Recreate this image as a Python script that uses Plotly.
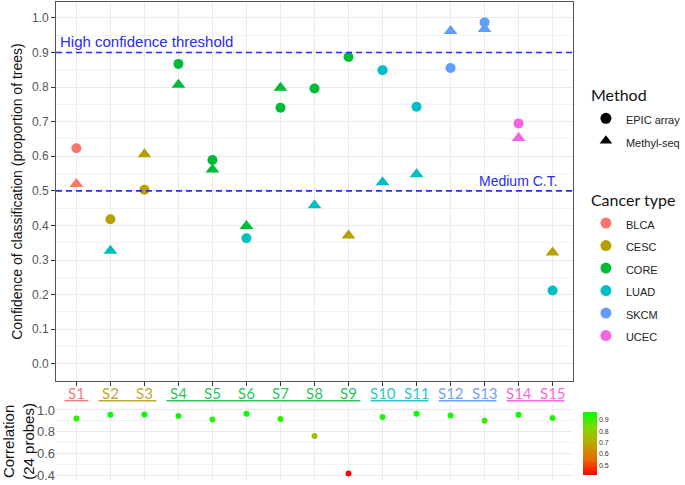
import plotly.graph_objects as go

# sample ids and the true cancer type of each sample (colours the tick labels)
samples = ["S1", "S2", "S3", "S4", "S5", "S6", "S7", "S8", "S9", "S10", "S11", "S12", "S13", "S14", "S15"]
true_type = ["BLCA", "CESC", "CESC", "CORE", "CORE", "CORE", "CORE", "CORE", "CORE",
             "LUAD", "LUAD", "SKCM", "SKCM", "UCEC", "UCEC"]

# EPIC array predictions
epic_conf = [0.623, 0.418, 0.503, 0.867, 0.589, 0.363, 0.740, 0.796, 0.887, 0.849, 0.743, 0.855, 0.987, 0.695, 0.212]
epic_pred = ["BLCA", "CESC", "CESC", "CORE", "CORE", "LUAD", "CORE", "CORE", "CORE",
             "LUAD", "LUAD", "SKCM", "SKCM", "UCEC", "LUAD"]

# Methyl-seq predictions
seq_conf = [0.520, 0.327, 0.606, 0.807, 0.562, 0.398, 0.798, 0.458, 0.371, 0.525, 0.548, 0.962, 0.968, 0.653, 0.322]
seq_pred = ["BLCA", "LUAD", "CESC", "CORE", "CORE", "CORE", "CORE", "LUAD", "CESC",
            "LUAD", "LUAD", "SKCM", "SKCM", "UCEC", "CESC"]

# correlation between the two platforms (24 probes)
correlation = [0.922, 0.956, 0.958, 0.944, 0.913, 0.965, 0.916, 0.760, 0.415, 0.934, 0.965, 0.950, 0.900, 0.956, 0.925]

cancer_types = ["BLCA", "CESC", "CORE", "LUAD", "SKCM", "UCEC"]
palette = {"BLCA": "#F8766D", "CESC": "#B79F00", "CORE": "#00BA38",
           "LUAD": "#00BFC4", "SKCM": "#619CFF", "UCEC": "#F564E3"}
label_col = {"BLCA": "#F47C7C", "CESC": "#C2A432", "CORE": "#2EC45C",
             "LUAD": "#2EC8C8", "SKCM": "#6FA2FF", "UCEC": "#F86ADF"}

xs = list(range(1, len(samples) + 1))
ARIAL = "Liberation Sans, Arial"
CAL = "Lato, Carlito, sans-serif"

fig = go.Figure()

# main panel points
fig.add_trace(go.Scatter(x=xs, y=epic_conf, mode="markers", showlegend=False,
                         marker=dict(symbol="circle", size=10, color=[palette[t] for t in epic_pred])))
fig.add_trace(go.Scatter(x=xs, y=seq_conf, mode="markers", showlegend=False,
                         marker=dict(symbol="triangle-up", size=12, color=[palette[t] for t in seq_pred])))

# correlation panel
fig.add_trace(go.Scatter(x=xs, y=correlation, mode="markers", xaxis="x2", yaxis="y2", showlegend=False,
                         marker=dict(size=6, color=correlation, cmin=min(correlation), cmax=max(correlation),
                                     colorscale=[[0, "#FF0000"], [0.25, "#E86A00"], [0.5, "#BBA800"],
                                                 [0.75, "#80D800"], [1, "#00FF00"]],
                                     colorbar=dict(x=1.019, xanchor="left", y=0.076, yanchor="middle",
                                                   lenmode="pixels", len=63, ypad=0, xpad=0, thickness=14,
                                                   outlinewidth=0, tickvals=[0.5, 0.6, 0.7, 0.8, 0.9],
                                                   ticks="", tickfont=dict(size=7, color="#333", family=ARIAL)))))

# legend entries (outer legend font sets row spacing, inner span sets text size)
def item(s):
    return '<span style="font-size:11px">%s</span>' % s

for name, sym in [("EPIC array", "circle"), ("Methyl-seq", "triangle-up")]:
    fig.add_trace(go.Scatter(x=[None], y=[None], mode="markers", name=item(name), legendgroup="method",
                             legendgrouptitle=dict(text="Method", font=dict(family=CAL, size=16, color="#111")),
                             marker=dict(symbol=sym, size=11, color="black")))
for t in cancer_types:
    fig.add_trace(go.Scatter(x=[None], y=[None], mode="markers", name=item(t), legendgroup="ctype",
                             legendgrouptitle=dict(text="Cancer type", font=dict(family=CAL, size=16, color="#111")),
                             marker=dict(symbol="circle", size=11, color=palette[t])))

# thresholds
for v in [0.9, 0.5]:
    fig.add_shape(type="line", xref="x domain", yref="y", x0=0, x1=1, y0=v, y1=v,
                  line=dict(color="#2B2BF0", width=1.6, dash="6px,4px"))
fig.add_annotation(x=0.003, xref="x domain", y=0.9, yref="y", yanchor="bottom", xanchor="left",
                   text="High confidence threshold", showarrow=False,
                   font=dict(family=ARIAL, size=15, color="#2B2BF0"))
fig.add_annotation(x=0.975, xref="x domain", y=0.5, yref="y", yanchor="bottom", xanchor="right",
                   text="Medium C.T.", showarrow=False, font=dict(family=ARIAL, size=14, color="#2B2BF0"))

# sample labels, coloured by true type, with underlines grouping them
for x, s, t in zip(xs, samples, true_type):
    fig.add_annotation(x=x, xref="x", y=0.182, yref="paper", yanchor="middle", text=s, showarrow=False,
                       font=dict(family=CAL, size=15, color=label_col[t]))
for t in cancer_types:
    idx = [i + 1 for i, tt in enumerate(true_type) if tt == t]
    fig.add_shape(type="line", xref="x", yref="paper", x0=min(idx) - 0.35, x1=max(idx) + 0.35,
                  y0=0.166, y1=0.166, line=dict(color=label_col[t], width=1.5))

# y title of the correlation panel
fig.add_annotation(x=-0.0716, xref="paper", y=0.082, yref="paper", xanchor="center", yanchor="middle",
                   textangle=-90, showarrow=False,
                   text="Correlation<br>(24 probes)", font=dict(size=15, color="#111"))

fig.update_layout(
    width=685, height=485,
    margin=dict(l=56, r=112, t=2, b=5, autoexpand=False),
    paper_bgcolor="white", plot_bgcolor="white",
    font=dict(family=ARIAL, color="#222"),
    xaxis=dict(domain=[0, 1], anchor="y", range=[0.4, 15.6], tickvals=xs, showticklabels=False,
               automargin=False, ticks="outside", ticklen=4, tickcolor="#333",
               showline=True, linecolor="#555", linewidth=1, mirror=True,
               showgrid=True, gridcolor="#EBEBEB", zeroline=False),
    yaxis=dict(domain=[0.207, 1], range=[-0.05, 1.046], tickvals=[i / 10 for i in range(11)], automargin=False,
               tickformat=".1f", tickfont=dict(size=12, color="#555"), ticks="outside", ticklen=4,
               tickcolor="#333", showline=True, linecolor="#555", linewidth=1, mirror=True,
               showgrid=True, gridcolor="#EBEBEB", zeroline=False,
               minor=dict(tickvals=[i / 20 for i in range(1, 21, 2)], showgrid=True, gridcolor="#F3F3F3", ticks=""),
               title=dict(text="Confidence of classification (proportion of trees)",
                          font=dict(size=14, color="#111"), standoff=6)),
    xaxis2=dict(domain=[0, 1], anchor="y2", matches="x", range=[0.4, 15.6], tickvals=xs, automargin=False,
                showticklabels=False, showgrid=True, gridcolor="#EBEBEB", zeroline=False, showline=False),
    yaxis2=dict(domain=[0, 0.159], range=[0.354, 1.055], tickvals=[0.4, 0.6, 0.8, 1.0], tickformat=".1f",
                automargin=False,
                tickfont=dict(size=13, color="#555"), showgrid=True, gridcolor="#EBEBEB", zeroline=False,
                minor=dict(tickvals=[0.5, 0.7, 0.9], showgrid=True, gridcolor="#F3F3F3")),
    legend=dict(x=1.025, xanchor="left", y=0.8405, yanchor="top", tracegroupgap=36,
                font=dict(family=ARIAL, size=15, color="#222"), bgcolor="rgba(0,0,0,0)"),
)

fig.write_html("out.html", config={"displayModeBar": False},
               post_script="document.body.style.margin='0px';")
